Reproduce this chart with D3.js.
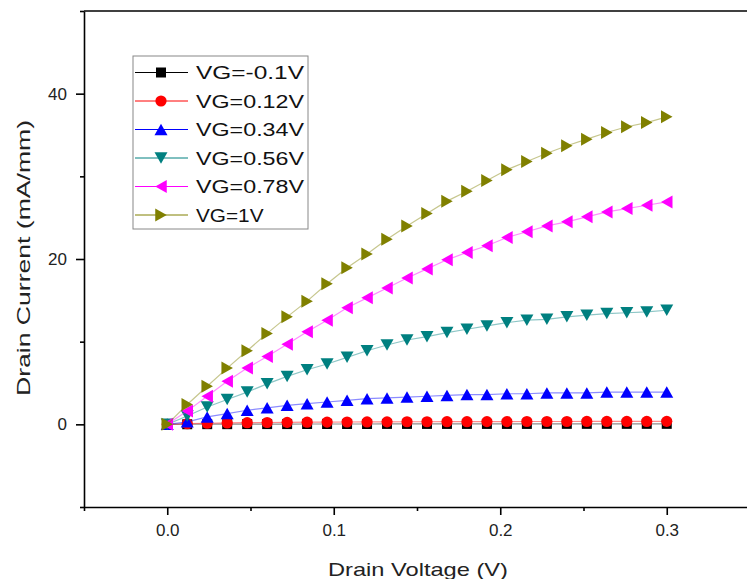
<!DOCTYPE html>
<html>
<head>
<meta charset="utf-8">
<script src="https://cdn.jsdelivr.net/npm/d3@7"></script>
<style>
html,body{margin:0;padding:0;background:#fff;overflow:hidden;}
svg{display:block;font-family:Arial,"Liberation Sans",sans-serif;}
</style>
</head>
<body>
<svg id="chart" width="747" height="579"></svg>
<script>
// ---- data ----
const drainVoltage = [0,0.012,0.024,0.036,0.048,0.06,0.072,0.084,0.096,0.108,0.12,0.132,0.144,0.156,0.168,0.18,0.192,0.204,0.216,0.228,0.24,0.252,0.264,0.276,0.288,0.3];
const seriesNames = ["VG=-0.1V","VG=0.12V","VG=0.34V","VG=0.56V","VG=0.78V","VG=1V"];
const vgNeg01 = [0,0.01,0.02,0.02,0.03,0.03,0.03,0.04,0.04,0.04,0.04,0.05,0.05,0.05,0.05,0.05,0.05,0.05,0.05,0.06,0.06,0.06,0.06,0.06,0.06,0.06];
const vg012 = [0,0.08,0.13,0.17,0.2,0.22,0.24,0.26,0.27,0.28,0.29,0.3,0.31,0.31,0.32,0.32,0.33,0.33,0.34,0.34,0.34,0.35,0.35,0.35,0.35,0.36];
const vg034 = [0,0.3,0.9,1.3,1.7,2.0,2.3,2.5,2.7,2.9,3.1,3.2,3.3,3.4,3.5,3.6,3.6,3.7,3.7,3.8,3.8,3.8,3.9,3.9,3.9,3.9];
const vg056 = [0,1.0,2.1,3.0,3.9,4.9,5.8,6.6,7.3,8.1,8.9,9.6,10.2,10.6,11.1,11.5,11.9,12.3,12.6,12.7,13.0,13.2,13.4,13.5,13.6,13.8];
const vg078 = [0,1.6,3.4,5.2,6.8,8.2,9.7,11.2,12.6,14.1,15.3,16.5,17.7,18.8,19.9,20.8,21.6,22.6,23.3,24.0,24.5,25.1,25.7,26.1,26.5,26.9];
const vg1 = [0,2.4,4.6,6.8,8.9,11.0,13.0,14.9,17.0,18.95,20.6,22.4,24.0,25.5,27.0,28.2,29.5,30.8,31.8,32.8,33.7,34.5,35.3,36.0,36.5,37.2];
const xMajorTicks = [0,0.1,0.2,0.3];
const xMinorTicks = [-0.05,0.05,0.15,0.25,0.35];
const yMajorTicks = [0,20,40];
const yMinorTicks = [-10,10,30,50];

const seriesValues = [vgNeg01, vg012, vg034, vg056, vg078, vg1];
const colors = ["#000000","#ff0000","#0000ff","#008080","#ff00ff","#808000"];
const shapes = ["square","circle","up","down","left","right"];

// ---- layout ----
const svg = d3.select("#chart");
const plotLeft = 84, plotRight = 750, plotTop = 11, plotBottom = 507;
const x = d3.scaleLinear().domain([-0.05, 0.35]).range([plotLeft, plotRight]);
const y = d3.scaleLinear().domain([-10, 50]).range([plotBottom, plotTop]);

function markerPath(shape){
  const h = 6.5, d = 11.5;
  switch(shape){
    case "square": return "M-5,-5H5V5H-5Z";
    case "circle": return d3.symbol(d3.symbolCircle, Math.PI*5.6*5.6)();
    case "up": return `M0,${-d/2}L${h},${d/2}L${-h},${d/2}Z`;
    case "down": return `M0,${d/2}L${h},${-d/2}L${-h},${-d/2}Z`;
    case "left": return `M${-d/2},0L${d/2},${-h}L${d/2},${h}Z`;
    case "right": return `M${d/2},0L${-d/2},${-h}L${-d/2},${h}Z`;
  }
}

// ---- series ----
const line = d3.line().x((d,i)=>x(drainVoltage[i])).y(d=>y(d));
seriesValues.forEach((vals, si) => {
  const g = svg.append("g");
  g.append("path").attr("d", line(vals)).attr("fill","none")
    .attr("stroke", colors[si]).attr("stroke-opacity",0.45).attr("stroke-width",1.2);
  g.selectAll("path.m").data(vals).join("path").attr("class","m")
    .attr("d", markerPath(shapes[si]))
    .attr("transform",(d,i)=>`translate(${x(drainVoltage[i])},${y(d)})`)
    .attr("fill", colors[si]);
});

// ---- axes ----
const axisStroke = "#000";
svg.append("line").attr("x1",plotLeft).attr("x2",plotRight).attr("y1",plotTop).attr("y2",plotTop)
  .attr("stroke",axisStroke).attr("stroke-width",1.6);

const xAxisMaj = d3.axisBottom(x).tickValues(xMajorTicks).tickSize(8).tickSizeOuter(0).tickFormat(d3.format(".1f"));
const gx = svg.append("g").attr("transform",`translate(0,${plotBottom})`).call(xAxisMaj);
gx.select(".domain").attr("stroke-width",1.6);
gx.selectAll(".tick line").attr("stroke-width",1.6);
gx.selectAll(".tick text").attr("font-size",17).attr("font-family","Arial,'Liberation Sans',sans-serif").attr("fill","#222").attr("dy","1.05em");
const gxm = svg.append("g").attr("transform",`translate(0,${plotBottom})`)
  .call(d3.axisBottom(x).tickValues(xMinorTicks).tickSize(4).tickSizeOuter(0).tickFormat(""));
gxm.select(".domain").remove();
gxm.selectAll(".tick line").attr("stroke-width",1.6);

const yAxisMaj = d3.axisLeft(y).tickValues(yMajorTicks).tickSize(8).tickSizeOuter(0).tickFormat(d3.format("d"));
const gy = svg.append("g").attr("transform",`translate(${plotLeft},0)`).call(yAxisMaj);
gy.select(".domain").attr("stroke-width",1.6);
gy.selectAll(".tick line").attr("stroke-width",1.6);
gy.selectAll(".tick text").attr("font-size",17).attr("font-family","Arial,'Liberation Sans',sans-serif").attr("fill","#222").attr("x",-17);
const gym = svg.append("g").attr("transform",`translate(${plotLeft},0)`)
  .call(d3.axisLeft(y).tickValues(yMinorTicks).tickSize(4).tickSizeOuter(0).tickFormat(""));
gym.select(".domain").remove();
gym.selectAll(".tick line").attr("stroke-width",1.6);

// ---- axis titles ----
svg.append("text").attr("x",418).attr("y",576).attr("text-anchor","middle")
  .attr("font-size",19).attr("fill","#222")
  .attr("textLength",180).attr("lengthAdjust","spacingAndGlyphs")
  .text("Drain Voltage (V)");
svg.append("text").attr("transform","translate(30,258) rotate(-90)").attr("text-anchor","middle")
  .attr("font-size",19).attr("fill","#222")
  .attr("textLength",276).attr("lengthAdjust","spacingAndGlyphs")
  .text("Drain Current (mA/mm)");

// ---- legend ----
const lg = svg.append("g");
lg.append("rect").attr("x",133).attr("y",56).attr("width",175).attr("height",173)
  .attr("fill","#fff").attr("stroke","#888").attr("stroke-width",1);
const rowY = d3.scalePoint().domain(seriesNames).range([72.5,215]);
seriesNames.forEach((name, si) => {
  const yy = rowY(name);
  lg.append("line").attr("x1",135).attr("x2",188).attr("y1",yy).attr("y2",yy)
    .attr("stroke",colors[si]).attr("stroke-width",1);
  lg.append("path").attr("d",markerPath(shapes[si])).attr("transform",`translate(161,${yy})`).attr("fill",colors[si]);
  lg.append("text").attr("x",196).attr("y",yy+6.5).attr("font-size",18).attr("fill","#111")
    .attr("textLength", name.length*13.5).attr("lengthAdjust","spacingAndGlyphs")
    .text(name);
});
</script>
</body>
</html>
